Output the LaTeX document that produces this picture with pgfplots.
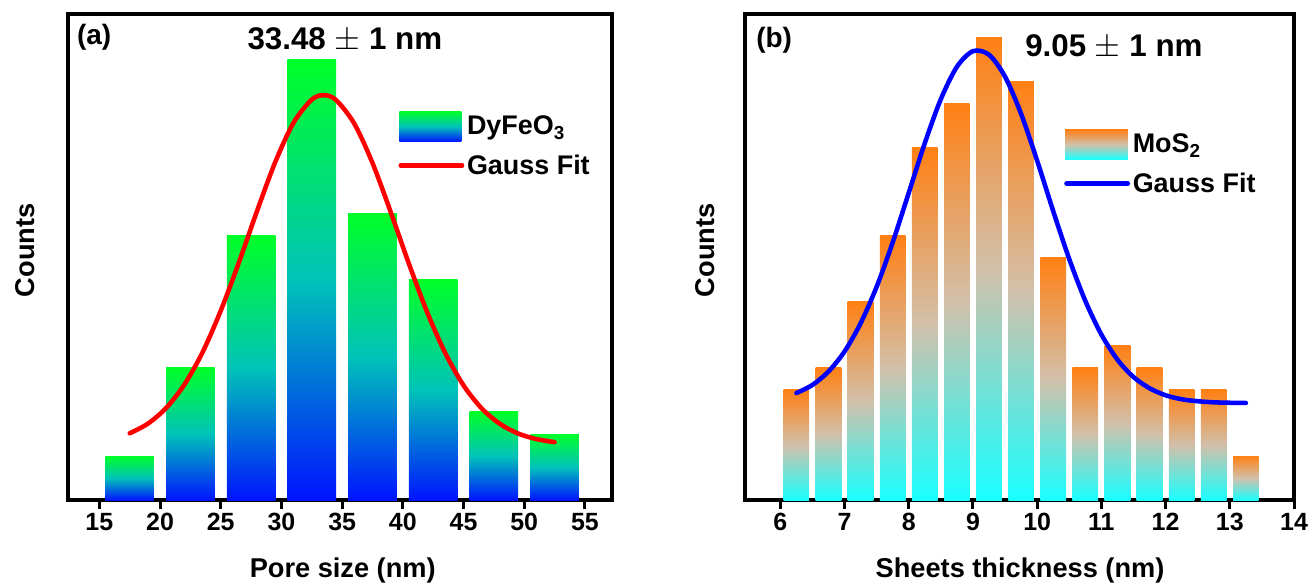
\documentclass[border=0pt]{standalone}
\usepackage{fontspec}
\setmainfont{Liberation Sans}
\usepackage{pgfplots}
\pgfplotsset{compat=1.18}
\definecolor{gtop}{RGB}{0,255,40}
\definecolor{gmid}{RGB}{0,195,185}
\definecolor{gbot}{RGB}{0,20,255}
\definecolor{otop}{RGB}{255,128,20}
\definecolor{omid}{RGB}{210,192,170}
\definecolor{obot}{RGB}{25,255,255}
\definecolor{fitred}{RGB}{255,0,0}
\definecolor{fitblue}{RGB}{0,0,255}
\newcommand{\tickfont}{\fontsize{18.7}{20}\selectfont\bfseries}
\newcommand{\legfont}{\fontsize{20.2}{22}\selectfont\bfseries}
\newcommand{\labfont}{\fontsize{20.4}{22}\selectfont\bfseries}
\newcommand{\titfont}{\fontsize{23.5}{25}\selectfont\bfseries}
\newcommand{\panfont}{\fontsize{21}{23}\selectfont\bfseries}
\pgfplotsset{
  myaxis/.style={
    scale only axis, height=364.5pt, anchor=south west,
    ymin=0, ymax=22.09, ytick=\empty,
    axis line style={line width=3pt},
    xtick pos=left, tick align=outside, major tick length=6.5pt,
    every tick/.style={black, line width=2.25pt},
    tick label style={font=\tickfont},
    /pgf/number format/assume math mode=true,
    label style={font=\labfont},
    ylabel style={anchor=center},
    xlabel style={anchor=center},
    legend style={draw=none, fill=none, anchor=north west, inner sep=0pt,
      font=\legfont, row sep=8pt, legend cell align=left},
  },
  gbar/.style={ybar, bar width=4, bar shift=0pt, draw=none,
    top color=gtop, bottom color=gbot, middle color=gmid},
  obar/.style={ybar, bar width=0.4, bar shift=0pt, draw=none,
    top color=otop, bottom color=obot, middle color=omid},
}
\begin{document}
\begin{tikzpicture}
\path[use as bounding box] (0pt,0pt) rectangle (985.5pt,-438.75pt);
% ---------- (a) ----------
\begin{axis}[myaxis, at={(51pt,-375pt)}, width=408pt,
  xmin=12.42, xmax=57.23, xtick={15,20,...,55},
  xlabel={Pore size (nm)}, ylabel={Counts},
  xlabel style={at={(axis description cs:0.505,-0.144)}},
  ylabel style={at={(axis description cs:-0.079,0.514)}},
  legend style={at={(axis description cs:0.607,0.80)}}]
\addplot[gbar,
  legend image code/.code={\path[top color=gtop, bottom color=gbot, middle color=gmid] (0pt,-11.25pt) rectangle (46.5pt,11.25pt);}]
  coordinates {(17.5,2)};
\addlegendentry{DyFeO\textsubscript{3}}
\addplot[gbar, forget plot] coordinates {(22.5,6)};
\addplot[gbar, forget plot] coordinates {(27.5,12)};
\addplot[gbar, forget plot] coordinates {(32.5,20)};
\addplot[gbar, forget plot] coordinates {(37.5,13)};
\addplot[gbar, forget plot] coordinates {(42.5,10)};
\addplot[gbar, forget plot] coordinates {(47.5,4)};
\addplot[gbar, forget plot] coordinates {(52.5,3)};
\addplot[fitred, line width=3.4pt, smooth, line cap=round, no marks,
  legend image code/.code={\draw[fitred, line width=3.4pt, line cap=round] (1pt,0pt) -- (47pt,0pt);}]
  coordinates {(17.5,3.03) (19,3.47) (20.5,4.18) (22,5.24) (23.5,6.71) (25,8.60) (26.5,10.80)
  (28,13.15) (29.5,15.37) (31,17.15) (32.5,18.20) (33.5,18.40) (34.5,18.18) (36,17.11)
  (37.5,15.32) (39,13.09) (40.5,10.74) (42,8.54) (43.5,6.67) (45,5.21) (46.5,4.16)
  (48,3.46) (49.5,3.02) (51,2.77) (52.5,2.63)};
\addlegendentry{Gauss Fit}
\node[font=\titfont] at (axis description cs:0.509,0.9465) {33.48 $\pm$ 1 nm};
\node[font=\panfont, anchor=west] at (axis description cs:0.008,0.952) {(a)};
\end{axis}
% ---------- (b) ----------
\begin{axis}[myaxis, at={(558.75pt,-375pt)}, width=411.75pt,
  xmin=5.45, xmax=14.0, xtick={6,7,...,14},
  xlabel={Sheets thickness (nm)}, ylabel={Counts},
  xlabel style={at={(axis description cs:0.501,-0.144)}},
  ylabel style={at={(axis description cs:-0.073,0.514)}},
  legend style={at={(axis description cs:0.581,0.763)}}]
\addplot[obar,
  legend image code/.code={\path[top color=otop, bottom color=obot, middle color=omid] (0pt,-11.25pt) rectangle (47pt,11.25pt);}]
  coordinates {(6.25,5)};
\addlegendentry{MoS\textsubscript{2}}
\addplot[obar, forget plot] coordinates {(6.75,6)};
\addplot[obar, forget plot] coordinates {(7.25,9)};
\addplot[obar, forget plot] coordinates {(7.75,12)};
\addplot[obar, forget plot] coordinates {(8.25,16)};
\addplot[obar, forget plot] coordinates {(8.75,18)};
\addplot[obar, forget plot] coordinates {(9.25,21)};
\addplot[obar, forget plot] coordinates {(9.75,19)};
\addplot[obar, forget plot] coordinates {(10.25,11)};
\addplot[obar, forget plot] coordinates {(10.75,6)};
\addplot[obar, forget plot] coordinates {(11.25,7)};
\addplot[obar, forget plot] coordinates {(11.75,6)};
\addplot[obar, forget plot] coordinates {(12.25,5)};
\addplot[obar, forget plot] coordinates {(12.75,5)};
\addplot[obar, forget plot] coordinates {(13.25,2)};
\addplot[fitblue, line width=3.4pt, smooth, line cap=round, no marks,
  legend image code/.code={\draw[fitblue, line width=3.4pt, line cap=round] (1pt,0pt) -- (47pt,0pt);}]
  coordinates {(6.25,4.86) (6.5,5.23) (6.75,5.84) (7,6.75) (7.25,8.03) (7.5,9.69) (7.75,11.71)
  (8,13.96) (8.25,16.22) (8.5,18.22) (8.75,19.69) (9,20.40) (9.25,20.24)
  (9.5,19.24) (9.75,17.55) (10,15.42) (10.25,13.13) (10.5,10.95) (10.75,9.05) (11,7.52)
  (11.25,6.38) (11.5,5.59) (11.75,5.08) (12,4.76) (12.25,4.58) (12.5,4.49) (12.75,4.44)
  (13,4.42) (13.25,4.41)};
\addlegendentry{Gauss Fit}
\node[font=\titfont] at (axis description cs:0.672,0.932) {9.05 $\pm$ 1 nm};
\node[font=\panfont, anchor=west] at (axis description cs:0.012,0.945) {(b)};
\end{axis}
\end{tikzpicture}
\end{document}
